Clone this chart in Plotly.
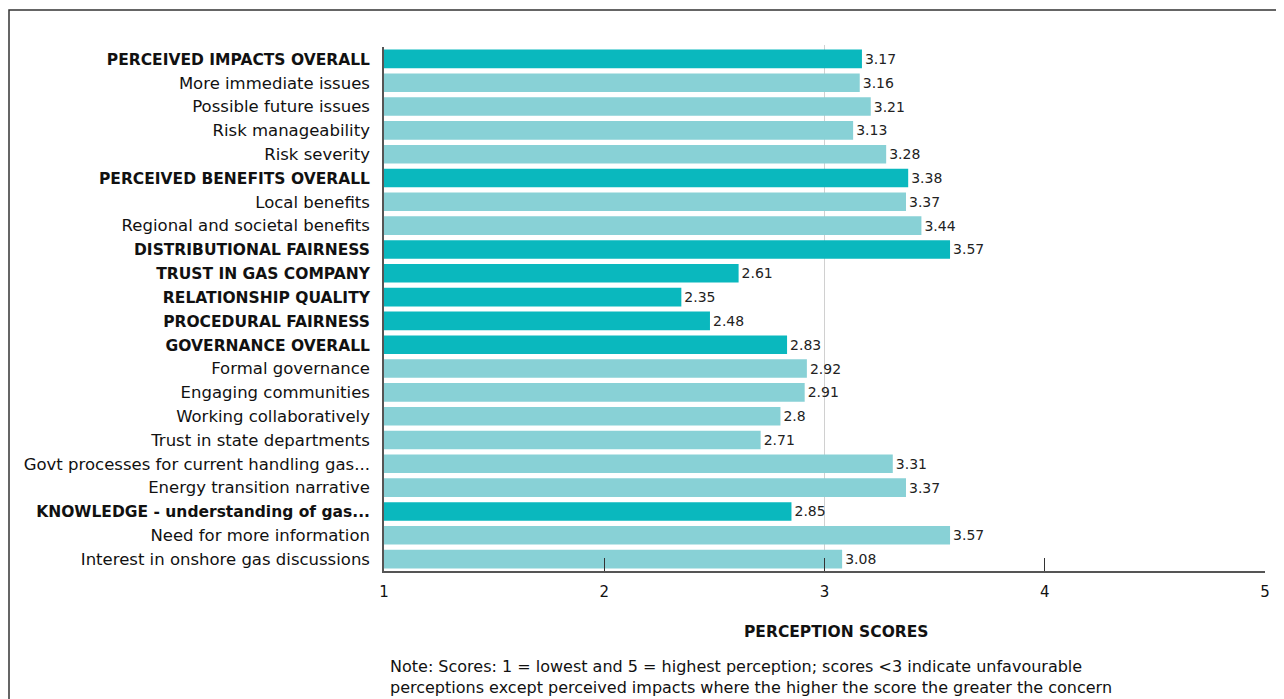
import plotly.graph_objects as go

categories = [
    "PERCEIVED IMPACTS OVERALL", "More immediate issues", "Possible future issues",
    "Risk manageability", "Risk severity", "PERCEIVED BENEFITS OVERALL",
    "Local benefits", "Regional and societal benefits", "DISTRIBUTIONAL FAIRNESS",
    "TRUST IN GAS COMPANY", "RELATIONSHIP QUALITY", "PROCEDURAL FAIRNESS",
    "GOVERNANCE OVERALL", "Formal governance", "Engaging communities",
    "Working collaboratively", "Trust in state departments",
    "Govt processes for current handling gas...", "Energy transition narrative",
    "KNOWLEDGE - understanding of gas...", "Need for more information",
    "Interest in onshore gas discussions",
]
values = [3.17, 3.16, 3.21, 3.13, 3.28, 3.38, 3.37, 3.44, 3.57, 2.61, 2.35, 2.48,
          2.83, 2.92, 2.91, 2.8, 2.71, 3.31, 3.37, 2.85, 3.57, 3.08]
is_overall = [True, False, False, False, False, True, False, False, True, True, True, True,
              True, False, False, False, False, False, False, True, False, False]
x_ticks = [1, 2, 3, 4, 5]

DARK = "#0ab8be"
LIGHT = "#88d1d6"
FONT = "DejaVu Sans"

# page body has an 8px margin: figure is laid out in page coords minus 8
OFF = 8
W, H = 1284 - OFF, 699 - OFF
PL, PR, PT, PB = 384 - OFF, 1265 - OFF, 47 - OFF, 571 - OFF
PW, PH = PR - PL, PB - PT


def px(xp):
    return (xp - OFF - PL) / PW


def py(yp):
    return (PB - (yp - OFF)) / PH


labels = [f"<span style='font-size:15.5px'><b>{c}</b></span>" if o else c
          for c, o in zip(categories, is_overall)]
colors = [DARK if o else LIGHT for o in is_overall]

fig = go.Figure(go.Bar(
    y=labels, x=values, orientation="h",
    marker=dict(color=colors, line=dict(width=0)),
    text=[f"{v:g}" for v in values], textposition="outside",
    textfont=dict(size=14, color="#222", family=FONT),
    cliponaxis=False, width=0.78,
))

fig.add_shape(type="line", xref="x", yref="paper", x0=3, x1=3, y0=0, y1=py(45),
              line=dict(color="#d0d0d0", width=1), layer="below")

# outer border
fig.add_shape(type="rect", xref="paper", yref="paper",
              x0=px(9), x1=px(1300), y0=py(720), y1=py(10),
              line=dict(color="#333", width=1.5), fillcolor="rgba(0,0,0,0)")

fig.add_annotation(text="<b>PERCEPTION SCORES</b>", xref="paper", yref="paper",
                   x=px(836), y=py(632), showarrow=False,
                   xanchor="center", yanchor="middle",
                   font=dict(size=15.5, color="#111", family=FONT))
fig.add_annotation(
    text="Note: Scores: 1 = lowest and 5 = highest perception; scores <3 indicate unfavourable<br>"
         "perceptions except perceived impacts where the higher the score the greater the concern",
    xref="paper", yref="paper", x=px(388), y=py(655), showarrow=False,
    xanchor="left", yanchor="top", align="left",
    font=dict(size=16, color="#111", family=FONT))

fig.update_layout(
    width=W, height=H, paper_bgcolor="white", plot_bgcolor="white",
    margin=dict(l=PL, r=W - PR, t=PT, b=H - PB),
    showlegend=False,
    font=dict(family=FONT, color="#111"),
    xaxis=dict(range=[1, 5], tickvals=x_ticks, showgrid=False, zeroline=False,
               showline=True, linecolor="#555", linewidth=1.5,
               ticks="inside", ticklen=13, tickcolor="#333", tickwidth=1,
               tickfont=dict(size=15, color="#111"), ticklabelstandoff=6),
    yaxis=dict(autorange="reversed", showgrid=False, zeroline=False,
               showline=True, linecolor="#555", linewidth=1.5, ticks="",
               tickfont=dict(size=16.5, color="#111"), ticklabelstandoff=9),
    bargap=0.22,
)

fig.write_html("out.html")
